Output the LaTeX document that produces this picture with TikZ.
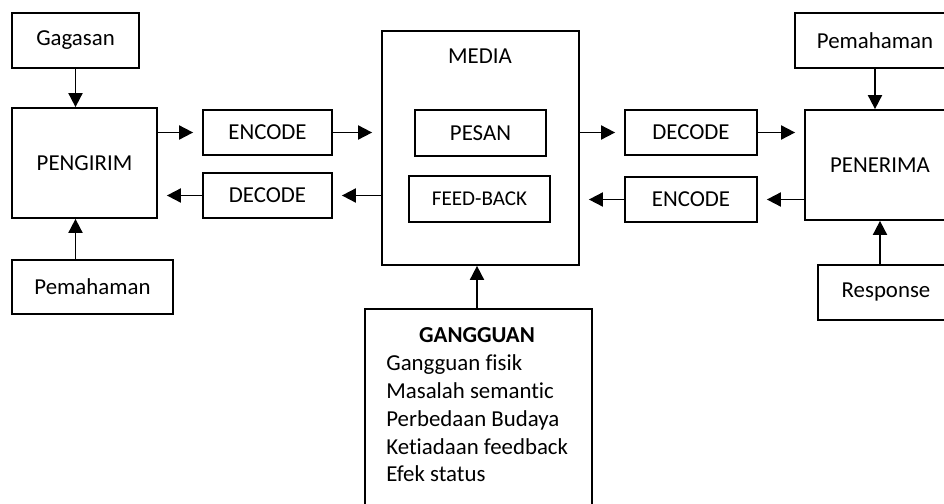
\documentclass[tikz,border=0pt]{standalone}
\usepackage{fontspec}
\setmainfont{Carlito}[Ligatures=NoCommon]
\usepackage{tikz}
\usetikzlibrary{arrows.meta}

\tikzset{
  box/.style={draw, line width=1pt, inner sep=0pt, font=\fontsize{13}{16}\selectfont},
  label-text/.style={inner sep=0pt, font=\fontsize{13}{15.9}\selectfont},
  link/.style={line width=1pt, -{Triangle[length=8pt, width=8pt]}},
  gaplink/.style={link, shorten >=1.8mm},
}

\begin{document}
\begin{tikzpicture}[x=0.02cm, y=-0.02cm]
        \clip (0,0) rectangle (944,504);
        % sisi pengirim
        \node[box, minimum width=2.54cm, minimum height=1.1cm]  (gagasan)     at ( 75.5,  40.5) {Gagasan};
        \node[box, minimum width=2.9cm,  minimum height=2.2cm]  (pengirim)    at ( 84.5, 163)   {PENGIRIM};
        \node[box, minimum width=3.22cm, minimum height=1.08cm] (pemahaman-l) at ( 92.5, 287)   {Pemahaman};
        \node[box, minimum width=2.58cm, minimum height=0.9cm]  (encode-l)    at (267.5, 132.5) {ENCODE};
        \node[box, minimum width=2.58cm, minimum height=0.9cm]  (decode-l)    at (267.5, 195.5) {DECODE};
        % media
        \node[box, minimum width=3.94cm, minimum height=4.68cm] (media)       at (480.5, 148)   {};
        \node[label-text]                                       (media-label) at (480,    56)   {MEDIA};
        \node[box, minimum width=2.62cm, minimum height=0.92cm] (pesan)       at (480.5, 133)   {PESAN};
        \node[box, minimum width=2.82cm, minimum height=0.92cm,
              font=\fontsize{12}{14}\selectfont]                 (feedback)    at (479.5, 199)   {FEED-BACK};
        % sisi penerima
        \node[box, minimum width=2.64cm, minimum height=0.9cm]  (decode-r)    at (691,   132.5) {DECODE};
        \node[box, minimum width=2.64cm, minimum height=0.9cm]  (encode-r)    at (691,   199.5) {ENCODE};
        \node[box, minimum width=3.0cm,  minimum height=2.2cm]  (penerima)    at (880,   165)   {PENERIMA};
        \node[box, minimum width=3.2cm,  minimum height=1.1cm]  (pemahaman-r) at (875,    40.5) {Pemahaman};
        \node[box, minimum width=2.72cm, minimum height=1.1cm]  (response)    at (886,   292.5) {Response};
        % gangguan
        \node[box, minimum width=4.54cm, minimum height=4.42cm] (gangguan)    at (478.5, 419.5) {};
        \node[label-text, font=\fontsize{13}{15.9}\selectfont\bfseries]
                                                                (gangguan-title) at (477, 335) {GANGGUAN};
        \node[label-text, align=left, anchor=north west]        (gangguan-list)  at (386, 354)
            {Gangguan fisik\\Masalah semantic\\Perbedaan Budaya\\Ketiadaan feedback\\Efek status};

        \draw[link] (gagasan) -- (gagasan |- pengirim.north);
        \draw[link] (pemahaman-l.north -| gagasan) -- (pengirim.south -| gagasan);
        \draw[gaplink] (pengirim.east |- encode-l) -- (encode-l);
        \draw[gaplink] (encode-l) -- (media.west |- encode-l);
        \draw[gaplink] (media.west |- decode-l) -- (decode-l);
        \draw[gaplink] (decode-l) -- (pengirim.east |- decode-l);
        \draw[gaplink] (media.east |- decode-r) -- (decode-r);
        \draw[gaplink] (decode-r) -- (penerima.west |- decode-r);
        \draw[gaplink] (penerima.west |- encode-r) -- (encode-r);
        \draw[gaplink] (encode-r) -- (media.east |- encode-r);
        \draw[link] (pemahaman-r) -- (pemahaman-r |- penerima.north);
        \draw[link] (response.north -| penerima) -- (penerima);
        \draw[link] (gangguan-title |- gangguan.north) -- (media.south -| gangguan-title);
\end{tikzpicture}
\end{document}
